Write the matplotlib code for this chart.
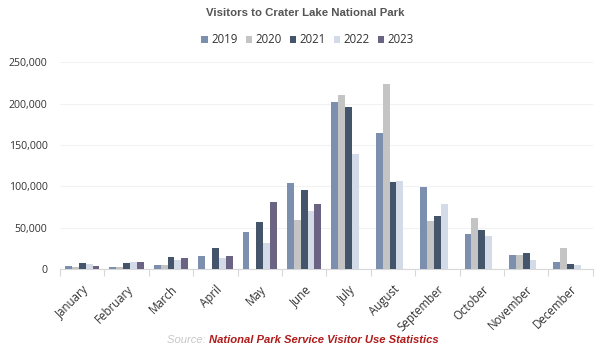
import matplotlib
matplotlib.use("Agg")
import matplotlib.pyplot as plt
import numpy as np

months = ["January", "February", "March", "April", "May", "June", "July",
          "August", "September", "October", "November", "December"]
years = ["2019", "2020", "2021", "2022", "2023"]
v2019 = [3500, 2500, 5000, 16000, 44700, 103900, 202000, 164700, 98600, 42200, 16900, 8500]
v2020 = [3000, 2500, 5000, 0, 0, 59200, 210500, 223000, 58300, 61600, 17300, 25700]
v2021 = [7500, 7500, 14800, 25500, 56800, 95000, 195200, 105800, 64000, 47100, 18900, 6400]
v2022 = [6500, 9000, 11300, 13500, 31800, 70400, 139300, 107000, 78900, 39400, 10400, 4800]
v2023 = [4000, 8000, 13700, 15500, 81000, 78500, np.nan, np.nan, np.nan, np.nan, np.nan, np.nan]
series = [v2019, v2020, v2021, v2022, v2023]
colors = ["#7c8fae", "#c4c4c4", "#44546a", "#d3dbe8", "#6a6384"]
yticks = [0, 50000, 100000, 150000, 200000, 250000]

fig = plt.figure(figsize=(6.03, 3.55), dpi=100)
ax = fig.add_axes([0.0995, 0.242, 0.8835, 0.583])

x = np.arange(len(months))
bw = 0.155
for i, (vals, c, lab) in enumerate(zip(series, colors, years)):
    ax.bar(x + (i - 2) * bw, vals, width=bw, color=c, label=lab, zorder=3)

ax.set_xlim(-0.5, len(months) - 0.5)
ax.set_ylim(0, 250000)
ax.set_yticks(yticks)
ax.set_yticklabels([f"{t:,}" for t in yticks], fontsize=7.6, color="#333333",
                   family="Open Sans")
ax.yaxis.grid(True, color="#f2f2f2", linewidth=0.8, zorder=0)
ax.tick_params(axis="y", length=0, pad=9)

ax.set_xticks(x)
ax.set_xticklabels(months, rotation=45, ha="right", rotation_mode="anchor",
                   fontsize=8.3, color="#333333", family="Open Sans")
ax.tick_params(axis="x", length=0, pad=10)
ax.set_xticks(np.arange(-0.5, len(months), 1), minor=True)
ax.tick_params(axis="x", which="minor", length=5, color="#d8d8d8", width=0.8)

for s in ["top", "right", "left"]:
    ax.spines[s].set_visible(False)
ax.spines["bottom"].set_color("#d8d8d8")
ax.spines["bottom"].set_linewidth(0.8)

fig.text(0.506, 0.962, "Visitors to Crater Lake National Park", ha="center", va="center",
         fontsize=8.2, fontweight="bold", color="#555555", family="Liberation Sans")

leg = fig.legend(loc="center", bbox_to_anchor=(0.51, 0.888), ncol=5, frameon=False,
                 handlelength=0.55, handleheight=0.55, handletextpad=0.3,
                 columnspacing=0.7, prop={"family": "Open Sans", "size": 8.3})
for t in leg.get_texts():
    t.set_color("#333333")

fig.text(0.347, 0.042, "Source: ", ha="right", va="center", fontsize=8.1,
         style="italic", color="#c8c8c8", family="Liberation Sans")
fig.text(0.347, 0.042, "National Park Service Visitor Use Statistics", ha="left",
         va="center", fontsize=8.1, style="italic", fontweight="bold",
         color="#b01c1c", family="Liberation Sans")

fig.savefig("out.png", dpi=100)
